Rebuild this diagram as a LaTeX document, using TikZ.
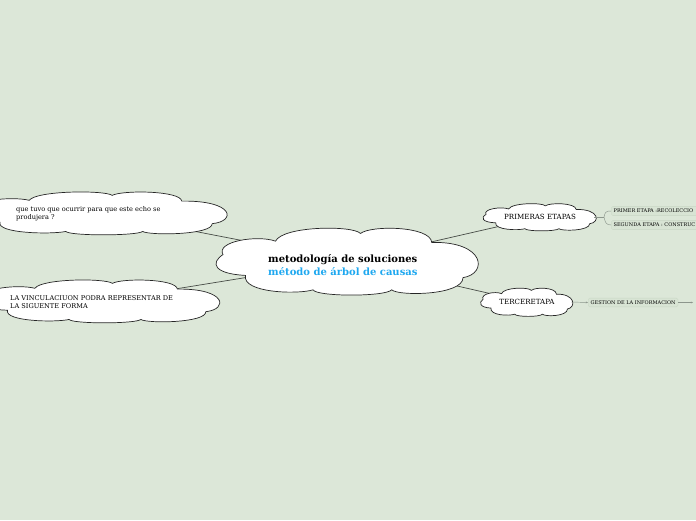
\documentclass[tikz,border=0pt]{standalone}
\usepackage{fontspec}
\setmainfont{DejaVu Serif}
\usetikzlibrary{arrows.meta}
\definecolor{bg}{RGB}{220,231,216}
\definecolor{lnk}{RGB}{70,75,70}
\definecolor{blu}{RGB}{30,168,240}
\definecolor{boxf}{RGB}{216,228,212}
\definecolor{boxd}{RGB}{200,214,196}
\definecolor{thin}{RGB}{140,150,140}
\tikzset{
  cloudline/.style={draw=black!85, line width=0.7pt, fill=white},
  anchorbox/.style={inner sep=0pt, outer sep=0pt},
  link/.style={draw=lnk, line width=0.7pt},
  thinlink/.style={draw=thin, line width=0.45pt},
  lbl/.style={font=\fontsize{6.6}{8}\selectfont, align=left, inner sep=0pt, anchor=west},
  leaf/.style={font=\fontsize{5}{6}\selectfont, fill=boxf, draw=boxd, line width=0.3pt, rounded corners=1.5pt, inner xsep=2.5pt, inner ysep=2.5pt, anchor=west}
}
\newcommand\cloudshape[4]{%
  \begin{scope}[shift={(#1,#2)}, x=#3pt, y=-#4pt]
  \path[cloudline] (-1,-0.2)
    .. controls (-1.06,-0.62) and (-0.72,-0.82) .. (-0.58,-0.62)
    .. controls (-0.52,-1.1) and (0.04,-1.12) .. (0.1,-0.86)
    .. controls (0.18,-1.12) and (0.66,-1.1) .. (0.67,-0.58)
    .. controls (1.1,-0.62) and (1.12,0.4) .. (0.92,0.52)
    .. controls (0.92,1.08) and (0.4,1.1) .. (0.35,0.9)
    .. controls (0.3,1.12) and (-0.25,1.12) .. (-0.28,0.9)
    .. controls (-0.4,1.05) and (-0.85,1.0) .. (-0.82,0.45)
    .. controls (-1.08,0.4) and (-1.1,0.05) .. (-1,-0.2) -- cycle;
  \end{scope}}
\begin{document}
\begin{tikzpicture}[x=1pt,y=-1pt]
\useasboundingbox[fill=bg] (0,0) rectangle (696,520);
% named centres of the clouds
\node[anchorbox, minimum width=250pt, minimum height=66pt] (main) at (348,261) {};
\node[anchorbox, minimum width=244pt, minimum height=42pt] (q) at (100,213) {};
\node[anchorbox, minimum width=228pt, minimum height=42pt] (v) at (101,301) {};
\node[anchorbox, minimum width=108pt, minimum height=27pt] (pe) at (540,217) {};
\node[anchorbox, minimum width=88pt, minimum height=28pt] (te) at (527,302) {};
% connectors (centre to centre, hidden inside the clouds)
\draw[link] (main.center) -- (q.center);
\draw[link] (main.center) -- (v.center);
\draw[link] (main.center) -- (pe.center);
\draw[link] (main.center) -- (te.center);
% clouds
\cloudshape{348}{261}{125}{32}
\cloudshape{100}{213}{122}{20.5}
\cloudshape{101}{301}{114}{20.5}
\cloudshape{540}{217}{54}{13}
\cloudshape{527}{302}{44}{13.5}
% texts
\node[font=\bfseries\fontsize{10}{12.5}\selectfont, align=left, inner sep=0pt, anchor=west] (mt) at (268,265) {metodología de soluciones\\\textcolor{blu}{método de árbol de causas}};
\node[lbl] (qt) at (16,213.5) {que tuvo que ocurrir para que este echo se\\produjera ?};
\node[lbl] (vt) at (10,302.5) {LA VINCULACIUON PODRA REPRESENTAR DE\\LA SIGUENTE FORMA};
\node[font=\fontsize{7.1}{8}\selectfont, inner sep=0pt] (pet) at (pe) {PRIMERAS ETAPAS};
\node[font=\fontsize{7.1}{8}\selectfont, inner sep=0pt] (tet) at (te) {TERCERETAPA};
% leaves
\node[leaf, text width=92pt, align=left] (p1) at (611,211) {PRIMER ETAPA\ :RECOLECCIO};
\node[leaf, text width=92pt, align=left] (p2) at (611,225) {SEGUNDA ETAPA : CONSTRUC};
\node[leaf] (g) at (588,302.5) {GESTION DE LA INFORMACION};
\coordinate (pb) at (604,217);
\draw[thinlink] (pe.east) -- (pb);
\draw[thinlink] (pb) .. controls (605,212) and (606,211) .. (p1.west);
\draw[thinlink] (pb) .. controls (605,222) and (606,225) .. (p2.west);
\draw[thinlink, -{Stealth[length=2.2pt,width=1.8pt]}] (te.east) -- (g.west);
\coordinate (gn) at (693,302.5);
\draw[thinlink, -{Stealth[length=2.2pt,width=1.8pt]}] (g.east) -- (gn);
\end{tikzpicture}
\end{document}
